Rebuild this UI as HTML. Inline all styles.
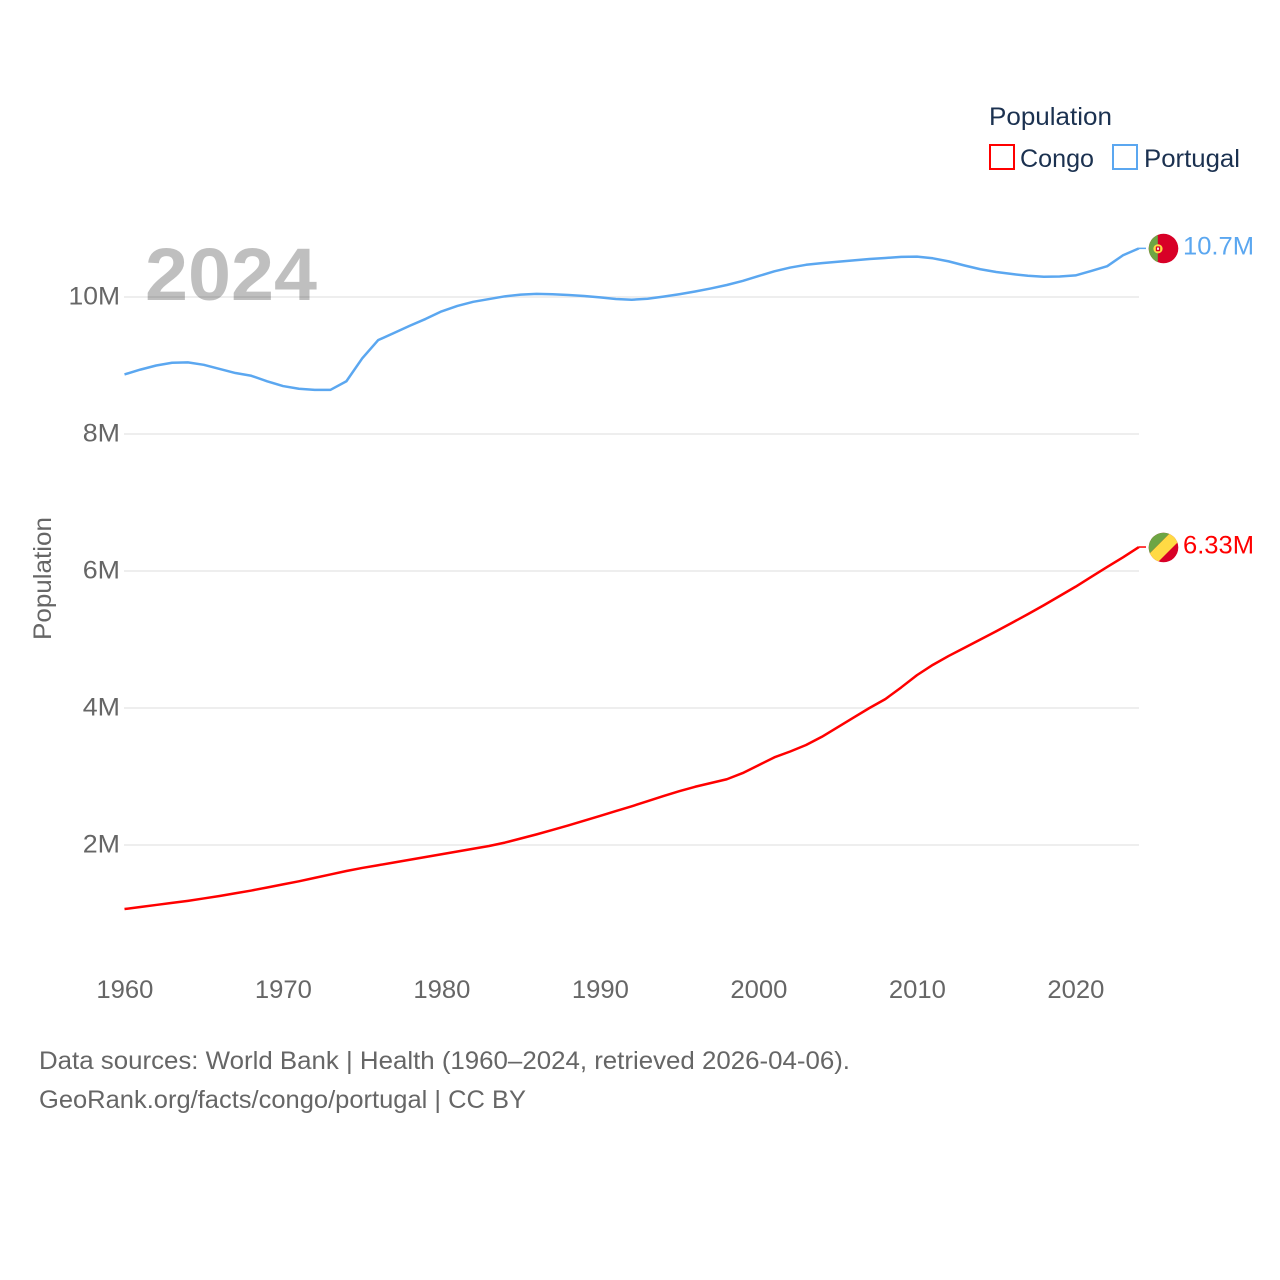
<!DOCTYPE html>
<html lang="en">
<head>
<meta charset="utf-8">
<title>Population: Congo and Portugal</title>
<style>
html,body{margin:0;padding:0;background:#fff;}
svg{display:block;font-family:"Liberation Sans",sans-serif;}
</style>
</head>
<body>
<svg id="chart" width="1280" height="1280" viewBox="0 0 1280 1280" xmlns="http://www.w3.org/2000/svg">
  <defs>
    <clipPath id="flag-clip-pt"><circle cx="1163.5" cy="248.5" r="14.8"/></clipPath>
    <clipPath id="flag-clip-cg"><circle cx="1163.5" cy="547.5" r="14.8"/></clipPath>
  </defs>
  <rect x="0" y="0" width="1280" height="1280" fill="#ffffff"/>
  <g id="grid"></g>
  <text x="145" y="300" font-size="74" font-weight="700" fill="#000" fill-opacity="0.25" textLength="172" lengthAdjust="spacingAndGlyphs">2024</text>
  <g id="y-ticks"></g>
  <g id="x-ticks"></g>
  <text transform="translate(51,640) rotate(-90)" font-size="25" fill="#666666" textLength="123" lengthAdjust="spacingAndGlyphs">Population</text>
  <g id="series"></g>

  <g>
    <text x="989" y="125" font-size="25" fill="#1b3150" textLength="123" lengthAdjust="spacingAndGlyphs">Population</text>
    <g>
      <rect x="990" y="145" width="24" height="24" fill="none" stroke="#ff0000" stroke-width="2"/>
      <text x="1020" y="167" font-size="25" fill="#1b3150" textLength="74" lengthAdjust="spacingAndGlyphs">Congo</text>
    </g>
    <g>
      <rect x="1113" y="145" width="24" height="24" fill="none" stroke="#5ba7f0" stroke-width="2"/>
      <text x="1144" y="167" font-size="25" fill="#1b3150" textLength="96" lengthAdjust="spacingAndGlyphs">Portugal</text>
    </g>
  </g>

  <g clip-path="url(#flag-clip-pt)">
    <rect x="1148" y="233" width="32" height="31" fill="#d80027"/>
    <rect x="1148" y="233" width="9.8" height="31" fill="#6da544"/>
    <circle cx="1158" cy="248.8" r="4.6" fill="#ffda44"/>
    <rect x="1155.8" y="246.4" width="4.4" height="4.8" rx="1" fill="#d80027"/>
    <rect x="1157" y="247.6" width="2" height="2.2" fill="#f0f0f0"/>
  </g>
  <g clip-path="url(#flag-clip-cg)">
    <rect x="1148" y="532" width="32" height="31" fill="#d80027"/>
    <polygon points="1140,563 1171,532 1188,532 1157,563" fill="#ffda44"/>
    <polygon points="1148,532 1171,532 1148,555" fill="#6da544"/>
  </g>

  <g id="end-labels"></g>

  <g>
    <text x="39" y="1069" font-size="25" fill="#666666" textLength="811" lengthAdjust="spacingAndGlyphs">Data sources: World Bank | Health (1960–2024, retrieved 2026-04-06).</text>
    <text x="39" y="1108" font-size="25" fill="#666666" textLength="487" lengthAdjust="spacingAndGlyphs">GeoRank.org/facts/congo/portugal | CC BY</text>
  </g>
</svg>
<script>
const startYear = 1960;
const congoValues = [1.065,1.095,1.125,1.155,1.185,1.22,1.255,1.295,1.335,1.38,1.425,1.47,1.52,1.57,1.62,1.665,1.705,1.745,1.785,1.825,1.865,1.905,1.945,1.985,2.035,2.095,2.155,2.22,2.285,2.355,2.425,2.495,2.565,2.64,2.715,2.785,2.85,2.905,2.96,3.05,3.165,3.28,3.365,3.46,3.58,3.72,3.86,4.00,4.13,4.30,4.48,4.63,4.76,4.88,5.00,5.12,5.245,5.37,5.50,5.635,5.77,5.915,6.06,6.20,6.35];
const portugalValues = [8.87,8.94,9.00,9.04,9.045,9.01,8.95,8.89,8.85,8.77,8.70,8.66,8.645,8.645,8.77,9.105,9.37,9.475,9.58,9.68,9.79,9.87,9.93,9.97,10.01,10.035,10.045,10.04,10.03,10.015,9.995,9.97,9.96,9.975,10.005,10.04,10.08,10.125,10.175,10.235,10.305,10.375,10.43,10.47,10.495,10.515,10.535,10.555,10.57,10.585,10.59,10.565,10.52,10.46,10.405,10.365,10.335,10.31,10.295,10.30,10.315,10.38,10.45,10.61,10.71];
const xTickYears = [1960,1970,1980,1990,2000,2010,2020];
const yTickValues = [2,4,6,8,10];
const endLabelCongo = "6.33M";
const endLabelPortugal = "10.7M";

const svgNS = "http://www.w3.org/2000/svg";
function xScale(year){ return 124.5 + (year - 1960) * 15.85; }
function yScale(millions){ return 845 - (millions - 2) * 68.5; }
function svgEl(tag, attrs){
  const el = document.createElementNS(svgNS, tag);
  for (const k in attrs) el.setAttribute(k, attrs[k]);
  return el;
}

const gridGroup = document.getElementById("grid");
const yTickGroup = document.getElementById("y-ticks");
yTickValues.forEach(function(v){
  const line = svgEl("line", {x1: 124, x2: 1139, y1: yScale(v), y2: yScale(v), stroke: "#eeeeee", "stroke-width": 2});
  
  
  gridGroup.appendChild(line);
  const label = v + "M";
  const t = svgEl("text", {x: 120, y: yScale(v) + 7.5, "text-anchor": "end", "font-size": 25, fill: "#666666", textLength: (label.length - 1) * 14.25 + 23, lengthAdjust: "spacingAndGlyphs"});
  
  
  t.textContent = label;
  yTickGroup.appendChild(t);
});

const xTickGroup = document.getElementById("x-ticks");
xTickYears.forEach(function(y){
  const t = svgEl("text", {x: xScale(y) + 0.4, y: 998, "text-anchor": "middle", "font-size": 25, fill: "#666666", textLength: 57, lengthAdjust: "spacingAndGlyphs"});
  
  
  t.textContent = y;
  xTickGroup.appendChild(t);
});

const seriesGroup = document.getElementById("series");
function drawSeries(values, color, seriesName){
  const pts = values.map(function(v, i){ return xScale(startYear + i).toFixed(2) + "," + yScale(v).toFixed(2); });
  const path = svgEl("polyline", {points: pts.join(" "), fill: "none", stroke: color, "stroke-width": 2.5, "stroke-linejoin": "round", "stroke-linecap": "butt"});
  
  
  seriesGroup.appendChild(path);
  const last = values[values.length - 1];
  const lastX = xScale(startYear + values.length - 1);
  const conn = svgEl("line", {x1: lastX, x2: 1146, y1: yScale(last), y2: yScale(last), stroke: color, "stroke-width": 1.5});
  
  
  seriesGroup.appendChild(conn);
}
drawSeries(congoValues, "#ff0000", "line-congo");
drawSeries(portugalValues, "#5ba7f0", "line-portugal");

const endGroup = document.getElementById("end-labels");
function drawEndLabel(text, color, x, y, width){
  const t = svgEl("text", {x: x, y: y, "font-size": 25, fill: color, textLength: width, lengthAdjust: "spacingAndGlyphs"});
  
  
  t.textContent = text;
  endGroup.appendChild(t);
}
drawEndLabel(endLabelPortugal, "#5ba7f0", 1183, 254.5, 71);
drawEndLabel(endLabelCongo, "#ff0000", 1183, 553.5, 71);
</script>
</body>
</html>
